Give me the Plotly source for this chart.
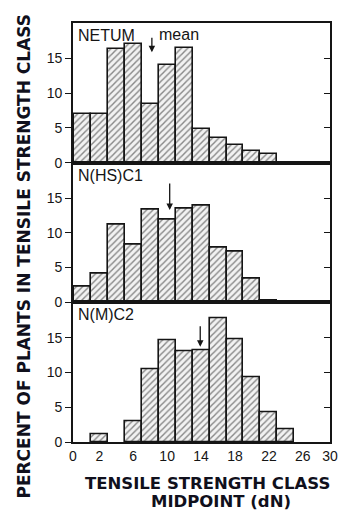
import plotly.graph_objects as go

# Data
midpoints = [0, 2, 4, 6, 8, 10, 12, 14, 16, 18, 20, 22, 24]
netum = [7.0, 7.0, 16.4, 17.1, 8.5, 14.1, 16.5, 4.9, 3.5, 2.6, 1.7, 1.3, 0]
nhsc1 = [2.3, 4.1, 11.2, 8.3, 13.4, 11.9, 13.5, 13.9, 7.8, 7.3, 3.4, 0.25, 0]
nmc2 = [0, 1.1, 0, 3.0, 10.5, 14.7, 13.1, 13.2, 17.8, 14.8, 9.3, 4.2, 1.8]
panel_names = ["NETUM", "N(HS)C1", "N(M)C2"]
means = [8.2, 10.3, 13.9]
x_tick_vals = [-1.1, 2, 6, 10, 14, 18, 22, 26, 29.2]
x_tick_text = ["0", "2", "6", "10", "14", "18", "22", "26", "30"]
y_ticks = [0, 5, 10, 15]

series = [netum, nhsc1, nmc2]
mean_tip = [15.9, 13.3, 13.7]
mean_len = [16, 28, 22]

INK = "#151515"
TICKFONT = dict(family="Liberation Sans, Arial", size=14, color=INK)

fig = go.Figure()
domains = [[2/3, 1.0], [1/3, 2/3], [0.0, 1/3]]
for i, vals in enumerate(series):
    ax = "" if i == 0 else str(i + 1)
    xs = [m for m, v in zip(midpoints, vals) if v > 0]
    ys = [v for v in vals if v > 0]
    fig.add_trace(go.Bar(
        x=xs, y=ys, width=2, xaxis="x" + ax, yaxis="y" + ax,
        marker=dict(color="#f2f2f2",
                    line=dict(color=INK, width=1.6),
                    pattern=dict(shape="/", fgcolor="#1e1e1e", bgcolor="#f2f2f2",
                                 size=4.5, solidity=0.32)),
        showlegend=False, hoverinfo="skip"))
    fig.update_layout(**{
        "xaxis" + ax: dict(domain=[0, 1], range=[-1.1, 29.2], anchor="y" + ax,
                           showline=True, linecolor=INK, linewidth=1.6, mirror=True,
                           ticks="", tickvals=x_tick_vals, ticktext=x_tick_text,
                           showticklabels=(i == 2), tickfont=TICKFONT,
                           showgrid=False, zeroline=False),
        "yaxis" + ax: dict(domain=domains[i], range=[0, 20.1], anchor="x" + ax,
                           showline=True, linecolor=INK, linewidth=1.6, mirror=True,
                           ticks="outside", ticklen=6, tickwidth=1.4, tickcolor=INK,
                           tickvals=y_ticks, tickfont=TICKFONT,
                           showgrid=False, zeroline=False),
    })
    # inner ticks on the right side
    n = i + 4
    fig.update_layout(**{
        "yaxis" + str(n): dict(overlaying="y" + ax, side="right", anchor="x" + ax,
                               range=[0, 20.1], ticks="inside", ticklen=6,
                               tickwidth=1.4, tickcolor=INK, tickvals=[5, 10, 15],
                               showticklabels=False, showgrid=False, zeroline=False,
                               showline=False),
    })
    fig.add_trace(go.Scatter(x=[None], y=[None], xaxis="x" + ax, yaxis="y" + str(n),
                             showlegend=False, hoverinfo="skip"))
    fig.add_annotation(text=panel_names[i], xref="x" + ax + " domain",
                       yref="y" + ax + " domain", x=0.012, y=0.985,
                       xanchor="left", yanchor="top", showarrow=False,
                       font=dict(family="Liberation Sans, Arial", size=16, color=INK))
    fig.add_annotation(x=means[i], y=mean_tip[i], xref="x" + ax, yref="y" + ax,
                       showarrow=True, ax=0, ay=-mean_len[i], arrowhead=2,
                       arrowsize=1, arrowwidth=1.3, arrowcolor=INK, text="")

fig.add_annotation(text="mean", x=means[0] + 0.6, y=19.9, xref="x", yref="y",
                   xanchor="left", yanchor="top", showarrow=False,
                   font=dict(family="Liberation Sans, Arial", size=16, color=INK))

TITLEFONT = dict(family="DejaVu Sans", size=16.5, color="#10101c")
fig.add_annotation(text="<b>PERCENT OF PLANTS IN TENSILE STRENGTH CLASS</b>",
                   xref="paper", yref="paper", x=-0.19, y=0.443, textangle=-90,
                   showarrow=False, xanchor="center", yanchor="middle",
                   font=dict(family="DejaVu Sans", size=17, color="#10101c"))
fig.add_annotation(text="<b>TENSILE STRENGTH CLASS</b>", xref="paper", yref="paper",
                   x=0.524, y=-0.100, showarrow=False, xanchor="center",
                   yanchor="middle", font=TITLEFONT)
fig.add_annotation(text="<b>MIDPOINT (dN)</b>", xref="paper", yref="paper",
                   x=0.575, y=-0.143, showarrow=False, xanchor="center",
                   yanchor="middle", font=TITLEFONT)

# page body has an 8px default margin; compensate so the plot lands in place
fig.update_layout(width=341, height=502, margin=dict(l=65, r=11, t=15, b=68),
                  paper_bgcolor="white", plot_bgcolor="white", bargap=0)
fig.write_html("out.html")
